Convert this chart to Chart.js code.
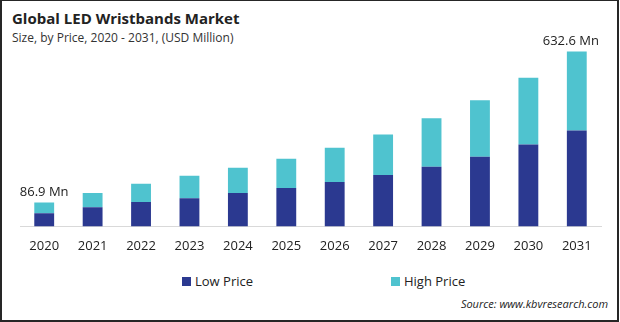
<!DOCTYPE html>
<html>
<head>
<meta charset="utf-8">
<script src="https://cdn.jsdelivr.net/npm/chart.js@4"></script>
<style>
  body { margin: 0; background: #fff; font-family: "Open Sans", sans-serif; }
  #frame { position: relative; width: 619px; height: 322px; box-sizing: border-box;
           border: 2px solid #262626; border-top-width: 1px; overflow: hidden; }
  #title { position: absolute; left: 10px; top: 7px; font-size: 15px; font-weight: bold; color: #222; }
  #subtitle { position: absolute; left: 10px; top: 28px; font-size: 12px; color: #333; }
  #wrap { position: absolute; left: -2px; top: -1px; width: 620px; height: 258px; }
  .leg { position: absolute; top: 271px; font-size: 13px; color: #222; }
  .sw { display: inline-block; width: 9px; height: 9px; margin-right: 4px; }
  #source { position: absolute; right: 9px; top: 295px; font-size: 11px; font-style: italic; color: #222; }
</style>
</head>
<body>
<div id="frame">
  <div id="title">Global LED Wristbands Market</div>
  <div id="subtitle">Size, by Price, 2020 - 2031, (USD Million)</div>
  <div id="wrap"><canvas id="barChart"></canvas></div>
  <div class="leg" style="left:180px"><span class="sw" style="background:#2b3990"></span>Low Price</div>
  <div class="leg" style="left:389px"><span class="sw" style="background:#4fc3cf"></span>High Price</div>
  <div id="source">Source: www.kbvresearch.com</div>
</div>
<script>
  //data
  const years = ['2020', '2021', '2022', '2023', '2024', '2025', '2026', '2027', '2028', '2029', '2030', '2031'];
  const lowPrice = [48, 69, 88, 102, 121, 139, 161, 186, 216, 252, 296, 347];
  const highPrice = [38.9, 52, 66, 81, 91, 106, 124, 147, 175, 205, 242, 285.6];
  const endLabels = { 0: '86.9 Mn', 11: '632.6 Mn' };

  // labels above first and last bar
  const totalLabels = {
    id: 'totalLabels',
    afterDatasetsDraw(chart) {
      const ctx = chart.ctx;
      const meta = chart.getDatasetMeta(1);
      ctx.save();
      ctx.font = '13px "Open Sans"';
      ctx.fillStyle = '#222';
      ctx.textAlign = 'center';
      ctx.textBaseline = 'bottom';
      Object.keys(endLabels).forEach(i => {
        const bar = meta.data[i];
        let x = bar.x;
        if (+i === years.length - 1) x -= 6;
        ctx.fillText(endLabels[i], x, bar.y - 4);
      });
      ctx.restore();
    }
  };

  const barChart = new Chart(document.getElementById('barChart'), {
    type: 'bar',
    data: {
      labels: years,
      datasets: [{
        label: 'Low Price',
        data: lowPrice,
        backgroundColor: '#2b3990',
        barPercentage: 0.82,
        categoryPercentage: 0.5
      }, {
        label: 'High Price',
        data: highPrice,
        backgroundColor: '#4fc3cf',
        barPercentage: 0.82,
        categoryPercentage: 0.5
      }]
    },
    options: {
      responsive: true,
      maintainAspectRatio: false,
      animation: false,
      layout: { padding: { left: 20, right: 19, top: 33, bottom: 0 } },
      plugins: { legend: { display: false }, tooltip: { enabled: false } },
      scales: {
        x: {
          stacked: true,
          grid: { display: false },
          border: { display: true, color: '#d9d9d9', width: 1 },
          ticks: { color: '#222', font: { family: 'Open Sans', size: 13 }, padding: 4 }
        },
        y: {
          stacked: true,
          display: false,
          min: 0,
          max: 700
        }
      }
    },
    plugins: [totalLabels]
  });
</script>
</body>
</html>
